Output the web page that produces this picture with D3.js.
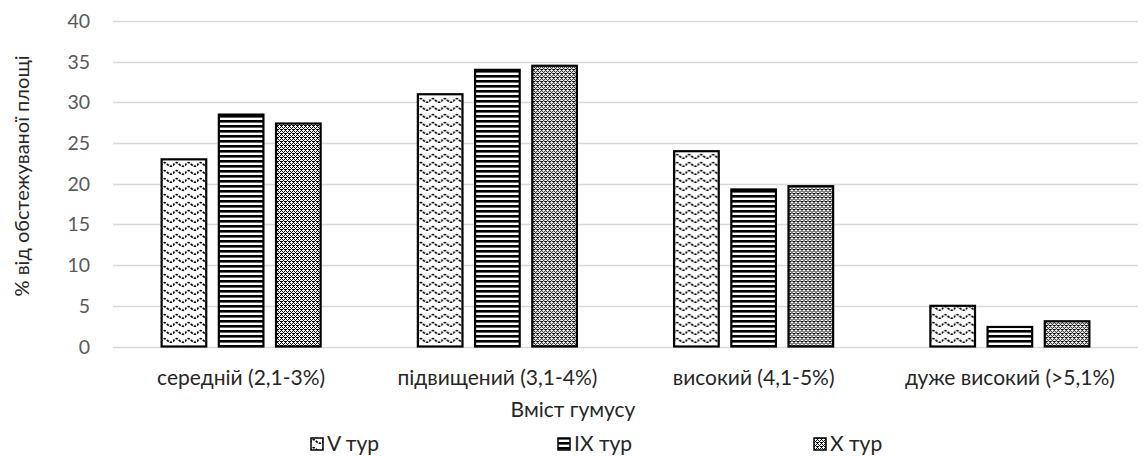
<!DOCTYPE html>
<html><head><meta charset="utf-8">
<script src="https://cdn.jsdelivr.net/npm/d3@7"></script>
<style>body{margin:0;background:#fff}svg{display:block}text{font-family:Lato,"Open Sans",sans-serif;fill:#333}</style>
</head><body><svg id="c" width="1148" height="456"></svg>
<script>
const categories=["середній (2,1-3%)","підвищений (3,1-4%)","високий (4,1-5%)","дуже високий (>5,1%)"];
const seriesNames=["V тур","IX тур","X тур"];
const vTur=[23,31,24,5];
const ixTur=[28.5,34,19.3,2.4];
const xTur=[27.4,34.5,19.7,3.1];
const yTicks=[0,5,10,15,20,25,30,35,40];
const series=[vTur,ixTur,xTur];
const patIds=["pWave","pHor","pDot"];

const svg=d3.select("#c");
const m={l:113,r:10,t:21,b:110};
const W=1148,H=456;
const x=d3.scaleBand().domain(categories).range([m.l,W-m.r]).paddingInner(0).paddingOuter(0);
const y=d3.scaleLinear().domain([0,40]).range([346.5,21]);
const xs=d3.scaleBand().domain(d3.range(3)).range([0,x.bandwidth()]).paddingInner(0.22).paddingOuter(0.85);

const defs=svg.append("defs");
// wave pattern
const pw=defs.append("pattern").attr("id","pWave").attr("patternUnits","userSpaceOnUse").attr("width",12).attr("height",8);
pw.append("rect").attr("width",12).attr("height",8).attr("fill","#fff");
pw.append("path").attr("d","M0,5.5 Q3,0.5 6,4 T12,5.5").attr("fill","none").attr("stroke","#000").attr("stroke-width",1.7).attr("stroke-dasharray","2.4,1.3");
// horizontal lines
const ph=defs.append("pattern").attr("id","pHor").attr("patternUnits","userSpaceOnUse").attr("width",4).attr("height",5);
ph.append("rect").attr("width",4).attr("height",5).attr("fill","#fff");
ph.append("rect").attr("y",0).attr("width",4).attr("height",2.6).attr("fill","#000");
// dotted diamond
const pd=defs.append("pattern").attr("id","pDot").attr("patternUnits","userSpaceOnUse").attr("width",4).attr("height",4);
pd.append("rect").attr("width",4).attr("height",4).attr("fill","#fff");
[[1,1],[3,3],[0,2],[2,0],[1,3],[3,1],[0,1]].forEach(([a,b])=>pd.append("rect").attr("x",a).attr("y",b).attr("width",1).attr("height",1).attr("fill","#000"));

// gridlines
svg.append("g").selectAll("line").data(yTicks).join("line")
 .attr("x1",m.l).attr("x2",W-m.r).attr("y1",d=>Math.round(y(d))+0.5).attr("y2",d=>Math.round(y(d))+0.5)
 .attr("stroke","#d9d9d9").attr("stroke-width",1.3);
// y tick labels
svg.append("g").selectAll("text").data(yTicks).join("text")
 .attr("x",90).attr("y",d=>y(d)+7).attr("text-anchor","end").attr("font-size",19.5).style("fill","#595959").text(d=>d);

// bars
const gcat=svg.append("g").selectAll("g").data(categories).join("g").attr("transform",d=>`translate(${x(d)},0)`);
gcat.selectAll("rect").data((c,i)=>series.map((s,k)=>({k,v:s[i]}))).join("rect")
 .attr("x",d=>xs(d.k)).attr("width",xs.bandwidth())
 .attr("y",d=>y(d.v)).attr("height",d=>y(0)-y(d.v))
 .attr("fill",d=>`url(#${patIds[d.k]})`).attr("stroke","#000").attr("stroke-width",2.2);

// x labels
svg.append("g").selectAll("text").data(categories).join("text")
 .attr("x",d=>x(d)+x.bandwidth()/2).attr("y",385).attr("text-anchor","middle").attr("font-size",21).style("fill","#262626").text(d=>d);

// axis titles
svg.append("text").attr("x",573).attr("y",417).attr("text-anchor","middle").attr("font-size",21).style("fill","#262626").text("Вміст гумусу");
svg.append("text").attr("transform","translate(29,176) rotate(-90)").attr("text-anchor","middle").attr("font-size",20).style("fill","#262626").text("% від обстежуваної площі");

// legend
const legX=[310,557,813];
const lg=svg.append("g").selectAll("g").data(seriesNames).join("g").attr("transform",(d,i)=>`translate(${legX[i]},437)`);
lg.append("rect").attr("x",1).attr("y",1).attr("width",12).attr("height",12).attr("fill",(d,i)=>`url(#${patIds[i]})`).attr("stroke","#000").attr("stroke-width",1.5);
lg.append("text").attr("x",17).attr("y",14).attr("font-size",21).style("fill","#262626").text(d=>d);
</script></body></html>
